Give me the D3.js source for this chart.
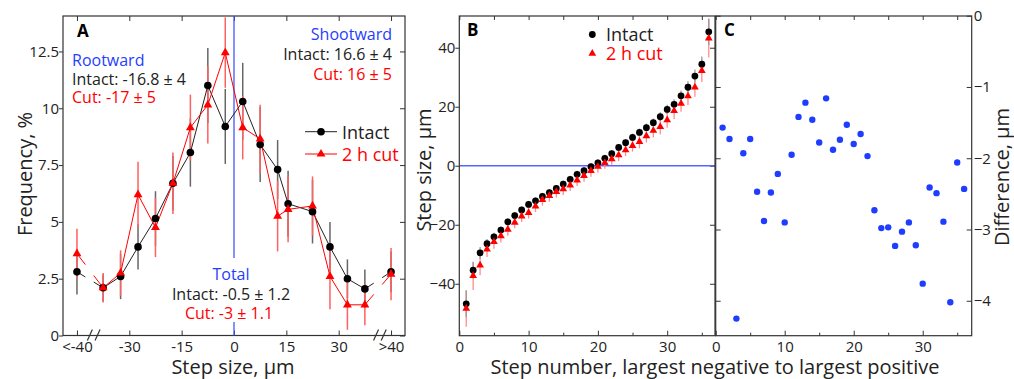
<!DOCTYPE html>
<html><head><meta charset="utf-8">
<script src="https://cdn.jsdelivr.net/npm/d3@7"></script>
<style>
body{margin:0;background:#fff}
text{font-family:"Open Sans",Lato,sans-serif;fill:#222}
</style>
</head><body>
<svg id="chart" width="1014" height="379"></svg>
<script>
// ---------- Panel A data ----------
const binCenters = [-45, -37.5, -32.5, -27.5, -22.5, -17.5, -12.5, -7.5, -2.5, 2.5, 7.5, 12.5, 15.5, 22.5, 27.5, 32.5, 37.5, 45];
const freqIntact = [2.8, 2.1, 2.6, 3.9, 5.15, 6.7, 8.05, 11.0, 9.2, 10.3, 8.4, 7.3, 5.8, 5.45, 3.9, 2.5, 2.05, 2.8];
const freqIntactErr = [1.0, 0.6, 1.0, 1.0, 1.2, 1.2, 1.5, 1.65, 1.65, 1.7, 1.65, 1.3, 1.45, 1.4, 1.1, 0.85, 0.85, 0.9];
const freqCut = [3.6, 2.1, 2.75, 6.2, 4.75, 6.7, 9.15, 10.15, 12.45, 9.15, 8.65, 5.25, 5.55, 5.7, 2.6, 1.35, 1.35, 2.7];
const freqCutErr = [1.1, 0.65, 1.0, 1.45, 1.3, 1.35, 1.45, 1.7, 1.55, 1.4, 1.5, 1.55, 1.45, 1.3, 1.45, 1.1, 0.9, 1.15];
const freqTicks = [0, 2.5, 5, 7.5, 10, 12.5];
const binTicks = [-45, -30, -15, 0, 15, 30, 45];
const binTickLabels = ["<-40", "-30", "-15", "0", "15", "30", ">40"];

// ---------- Panel B data ----------
const stepIntact = [-46.8, -35.4, -29.5, -26.4, -24.1, -21.8, -19.0, -16.9, -15.0, -13.1, -11.9, -10.4, -9.1, -7.7, -6.2, -4.6, -2.9, -1.7, -0.3, 1.0, 2.5, 4.1, 6.2, 7.8, 9.6, 11.3, 12.9, 14.6, 16.6, 19.1, 20.8, 23.7, 26.6, 30.4, 34.4, 45.4];
const stepIntactErr = [4.5, 2.8, 2.0, 1.6, 1.4, 1.3, 1.2, 1.2, 1.2, 1.2, 1.2, 1.2, 1.2, 1.2, 1.2, 1.2, 1.2, 1.2, 1.2, 1.2, 1.2, 1.2, 1.2, 1.2, 1.3, 1.3, 1.4, 1.4, 1.5, 1.6, 1.7, 1.8, 2.0, 2.2, 2.6, 4.5];
const stepCut = [-48.4, -37.3, -33.7, -28.3, -25.8, -23.8, -21.6, -19.2, -17.1, -15.9, -13.7, -11.5, -10.2, -8.8, -7.9, -6.6, -4.9, -3.4, -1.7, -0.3, 1.0, 2.3, 3.6, 5.3, 6.8, 8.1, 10.1, 11.9, 13.2, 15.5, 18.6, 21.1, 23.6, 26.6, 32.2, 43.2];
const stepCutErr = [6.2, 4.8, 3.4, 2.6, 2.3, 2.2, 2.1, 2.0, 2.0, 2.0, 2.0, 2.0, 2.0, 2.0, 2.0, 2.0, 2.0, 2.0, 2.0, 2.0, 2.0, 2.0, 2.0, 2.0, 2.0, 2.2, 2.2, 2.3, 2.5, 2.6, 2.8, 2.8, 3.0, 3.2, 3.8, 6.5];
const stepSizeTicks = [-40, -20, 0, 20, 40];
const stepNumTicks = [0, 10, 20, 30];
const stepNumMinor = [5, 15, 25, 35];

// ---------- Panel C data ----------
const diffValues = [-1.57, -1.73, -4.25, -1.93, -1.73, -2.47, -2.88, -2.48, -2.22, -2.90, -1.95, -1.42, -1.22, -1.46, -1.78, -1.16, -1.88, -1.74, -1.53, -1.80, -1.66, -1.97, -2.73, -2.98, -2.97, -3.23, -3.03, -2.90, -3.22, -3.76, -2.41, -2.49, -2.89, -4.02, -2.06, -2.43];
const diffTicks = [0, -1, -2, -3, -4];

const stepNumbers = stepIntact.map((d, i) => i + 1);

const svg = d3.select("#chart");
const axisColor = "#333";
const blue = "#1f3dff";
const red = "#ff0000";
const tickFont = 15, annFont = 16, legFont = 18, titleFont = 20;

function styleAxis(g) {
  g.select(".domain").remove();
  g.selectAll(".tick line").attr("stroke", axisColor).attr("stroke-width", 1);
  g.selectAll(".tick text").style("font-size", tickFont + "px").attr("fill", "#222");
}
function frame(x0, x1, y0, y1) {
  svg.append("rect").attr("x", x0).attr("y", y0).attr("width", x1 - x0).attr("height", y1 - y0)
    .attr("fill", "none").attr("stroke", axisColor).attr("stroke-width", 1.2);
}
function txt(x, y, s, color, size, anchor, weight) {
  return svg.append("text").attr("x", x).attr("y", y).text(s)
    .style("font-size", size + "px").style("fill", color)
    .attr("text-anchor", anchor || "start").style("font-weight", weight || "normal");
}
function vtitle(x, y, s) {
  svg.append("text").attr("transform", `translate(${x},${y}) rotate(-90)`).attr("text-anchor", "middle")
    .style("font-size", titleFont + "px").text(s);
}

// ================= Panel A =================
const A = {x0: 63, x1: 405, y0: 16, y1: 335.5};
const xA = d3.scaleLinear().domain([-49, 49]).range([A.x0, A.x1]);
const yA = d3.scaleLinear().domain([0, 14.06]).range([A.y1, A.y0]);

svg.append("g").attr("transform", `translate(${A.x0},0)`)
  .call(d3.axisLeft(yA).tickValues(freqTicks).tickSize(4).tickPadding(0).tickFormat(d3.format("~g")))
  .call(styleAxis);
svg.append("g").attr("transform", `translate(${A.x1},0)`)
  .call(d3.axisLeft(yA).tickValues(freqTicks).tickSize(5).tickFormat(""))
  .call(styleAxis).selectAll(".tick line").attr("x2", -5);
svg.append("g").attr("transform", `translate(0,${A.y1})`)
  .call(d3.axisBottom(xA).tickValues(binTicks).tickSize(-5).tickPadding(6).tickFormat((d, i) => binTickLabels[i]))
  .call(styleAxis);
svg.append("g").attr("transform", `translate(0,${A.y0})`)
  .call(d3.axisTop(xA).tickValues(binTicks).tickSize(-5).tickFormat(""))
  .call(styleAxis);
frame(A.x0, A.x1, A.y0, A.y1);

// axis break marks
[-41.3, 40.7].forEach(b => {
  [0, 2.2].forEach(off => {
    const cx = xA(b + off);
    svg.append("line").attr("x1", cx - 2.5).attr("y1", A.y1 + 5).attr("x2", cx + 2.5).attr("y2", A.y1 - 6)
      .attr("stroke", axisColor).attr("stroke-width", 1.2);
  });
});

// blue zero line
svg.append("line").attr("x1", xA(0)).attr("x2", xA(0)).attr("y1", A.y0).attr("y2", A.y1)
  .attr("stroke", "#4455ff").attr("stroke-width", 1.3);

const gA = svg.append("g");
binCenters.forEach((b, i) => {
  gA.append("line").attr("x1", xA(b)).attr("x2", xA(b))
    .attr("y1", yA(freqIntact[i] - freqIntactErr[i])).attr("y2", yA(freqIntact[i] + freqIntactErr[i]))
    .attr("stroke", "#666").attr("stroke-width", 1.5);
});
binCenters.forEach((b, i) => {
  gA.append("line").attr("x1", xA(b)).attr("x2", xA(b))
    .attr("y1", yA(freqCut[i] - freqCutErr[i])).attr("y2", yA(freqCut[i] + freqCutErr[i]))
    .attr("stroke", "#ff6060").attr("stroke-width", 1.5);
});

function brokenLine(vals, color) {
  const pts = binCenters.map((b, i) => [xA(b), yA(vals[i])]);
  const inner = pts.slice(1, pts.length - 1);
  gA.append("path").attr("d", d3.line()(inner)).attr("fill", "none").attr("stroke", color).attr("stroke-width", 1);
  const stub = (p, q, f) => [p, [p[0] + (q[0] - p[0]) * f, p[1] + (q[1] - p[1]) * f]];
  const n = pts.length;
  [stub(pts[0], pts[1], 0.32), stub(pts[1], pts[0], 0.36), stub(pts[n - 1], pts[n - 2], 0.34), stub(pts[n - 2], pts[n - 1], 0.34)]
    .forEach(s => gA.append("path").attr("d", d3.line()(s)).attr("fill", "none").attr("stroke", color).attr("stroke-width", 1));
}
brokenLine(freqIntact, "#222");
brokenLine(freqCut, red);

const triA = d3.symbol().type(d3.symbolTriangle).size(34);
binCenters.forEach((b, i) => {
  gA.append("circle").attr("cx", xA(b)).attr("cy", yA(freqIntact[i])).attr("r", 3.8).attr("fill", "#000");
});
binCenters.forEach((b, i) => {
  gA.append("path").attr("d", triA).attr("transform", `translate(${xA(b)},${yA(freqCut[i])})`).attr("fill", red);
});

txt(77, 37, "A", "#000", 17, "start", "bold");
txt(72, 66, "Rootward", blue, annFont);
txt(72, 84.5, "Intact: -16.8 ± 4", "#222", annFont);
txt(72, 102.5, "Cut: -17 ± 5", red, annFont);
txt(392, 39.5, "Shootward", blue, annFont, "end");
txt(392, 60, "Intact: 16.6 ± 4", "#222", annFont, "end");
txt(392, 79.5, "Cut: 16 ± 5", red, annFont, "end");

svg.append("rect").attr("x", xA(0) - 6).attr("y", 258).attr("width", 12).attr("height", 64).attr("fill", "#fff");
txt(231, 280, "Total", blue, annFont, "middle");
txt(231, 300, "Intact: -0.5 ± 1.2", "#222", annFont, "middle");
txt(229, 318.5, "Cut: -3 ± 1.1", red, annFont, "middle");

const lgA = svg.append("g");
lgA.append("line").attr("x1", 305).attr("x2", 337).attr("y1", 131.7).attr("y2", 131.7).attr("stroke", "#222");
lgA.append("circle").attr("cx", 321).attr("cy", 131.7).attr("r", 3.8).attr("fill", "#000");
lgA.append("line").attr("x1", 305).attr("x2", 337).attr("y1", 154).attr("y2", 154).attr("stroke", red);
lgA.append("path").attr("d", triA).attr("transform", "translate(321,154)").attr("fill", red);
txt(342, 138.5, "Intact", "#222", legFont);
txt(342, 161, "2 h cut", red, legFont);

vtitle(31.5, 174, "Frequency, %");
txt(233, 373.5, "Step size, µm", "#222", titleFont, "middle");

// ================= Panel B =================
const B = {x0: 459.3, x1: 715, y0: 16, y1: 335.7};
const xB = d3.scaleLinear().domain([0, 36.9]).range([B.x0, B.x1]);
const yB = d3.scaleLinear().domain([-57.6, 50.75]).range([B.y1, B.y0]);

svg.append("g").attr("transform", `translate(${B.x0},0)`)
  .call(d3.axisLeft(yB).tickValues(stepSizeTicks).tickSize(4).tickPadding(0))
  .call(styleAxis);
svg.append("g").attr("transform", `translate(${B.x1},0)`)
  .call(d3.axisLeft(yB).tickValues(stepSizeTicks).tickSize(5).tickFormat(""))
  .call(styleAxis).selectAll(".tick line").attr("x2", -5);
svg.append("g").attr("transform", `translate(0,${B.y1})`)
  .call(d3.axisBottom(xB).tickValues(stepNumTicks).tickSize(-5).tickPadding(6))
  .call(styleAxis);
svg.append("g").attr("transform", `translate(0,${B.y1})`)
  .call(d3.axisBottom(xB).tickValues(stepNumMinor).tickSize(-3).tickFormat(""))
  .call(styleAxis);
svg.append("g").attr("transform", `translate(0,${B.y0})`)
  .call(d3.axisTop(xB).tickValues(stepNumTicks.concat(stepNumMinor)).tickSize(-4).tickFormat(""))
  .call(styleAxis);

svg.append("line").attr("x1", B.x0).attr("x2", B.x1).attr("y1", yB(0)).attr("y2", yB(0))
  .attr("stroke", "#5566ff").attr("stroke-width", 1.5);

const gB = svg.append("g");
stepNumbers.forEach((s, i) => {
  gB.append("line").attr("x1", xB(s)).attr("x2", xB(s))
    .attr("y1", yB(stepCut[i] - stepCutErr[i])).attr("y2", yB(stepCut[i] + stepCutErr[i]))
    .attr("stroke", "#ff8c8c").attr("stroke-width", 1.3);
  gB.append("line").attr("x1", xB(s)).attr("x2", xB(s))
    .attr("y1", yB(stepIntact[i] - stepIntactErr[i])).attr("y2", yB(stepIntact[i] + stepIntactErr[i]))
    .attr("stroke", "#999").attr("stroke-width", 1.3);
});
stepNumbers.forEach((s, i) => {
  gB.append("circle").attr("cx", xB(s)).attr("cy", yB(stepIntact[i])).attr("r", 3.4).attr("fill", "#000");
});
const triB = d3.symbol().type(d3.symbolTriangle).size(26);
stepNumbers.forEach((s, i) => {
  gB.append("path").attr("d", triB).attr("transform", `translate(${xB(s)},${yB(stepCut[i])})`).attr("fill", red);
});
frame(B.x0, B.x1, B.y0, B.y1);

txt(467, 36, "B", "#000", 17, "start", "bold");
svg.append("circle").attr("cx", 592.3).attr("cy", 34.5).attr("r", 3.4).attr("fill", "#000");
svg.append("path").attr("d", triB).attr("transform", "translate(592.3,53.5)").attr("fill", red);
txt(606, 41, "Intact", "#222", legFont);
txt(606, 60, "2 h cut", red, legFont);

vtitle(431, 170, "Step size, µm");

// ================= Panel C =================
const C = {x0: 715.7, x1: 971.7, y0: 16, y1: 335.7};
const xC = d3.scaleLinear().domain([0, 37.1]).range([C.x0, C.x1]);
const yC = d3.scaleLinear().domain([-4.49, 0]).range([C.y1, 15.7]);

svg.append("g").attr("transform", `translate(${C.x1},0)`)
  .call(d3.axisRight(yC).tickValues(diffTicks).tickSize(-5).tickFormat(d3.format("d")))
  .call(styleAxis)
  .call(g => g.selectAll(".tick text").attr("x", 2));
svg.append("g").attr("transform", `translate(${C.x0},0)`)
  .call(d3.axisRight(yC).tickValues(diffTicks).tickSize(5).tickFormat(""))
  .call(styleAxis);
svg.append("g").attr("transform", `translate(0,${C.y1})`)
  .call(d3.axisBottom(xC).tickValues(stepNumTicks).tickSize(-5).tickPadding(6))
  .call(styleAxis);
svg.append("g").attr("transform", `translate(0,${C.y1})`)
  .call(d3.axisBottom(xC).tickValues(stepNumMinor).tickSize(-3).tickFormat(""))
  .call(styleAxis);
svg.append("g").attr("transform", `translate(0,${C.y0})`)
  .call(d3.axisTop(xC).tickValues(stepNumTicks.concat(stepNumMinor)).tickSize(-4).tickFormat(""))
  .call(styleAxis);

const gC = svg.append("g");
stepNumbers.forEach((s, i) => {
  gC.append("circle").attr("cx", xC(s)).attr("cy", yC(diffValues[i])).attr("r", 3.2).attr("fill", blue);
});
frame(C.x0, C.x1, C.y0, C.y1);

txt(724, 36, "C", "#000", 17, "start", "bold");
vtitle(1009, 177, "Difference, µm");

txt(715, 373.5, "Step number, largest negative to largest positive", "#222", titleFont, "middle");
</script>
</body></html>
